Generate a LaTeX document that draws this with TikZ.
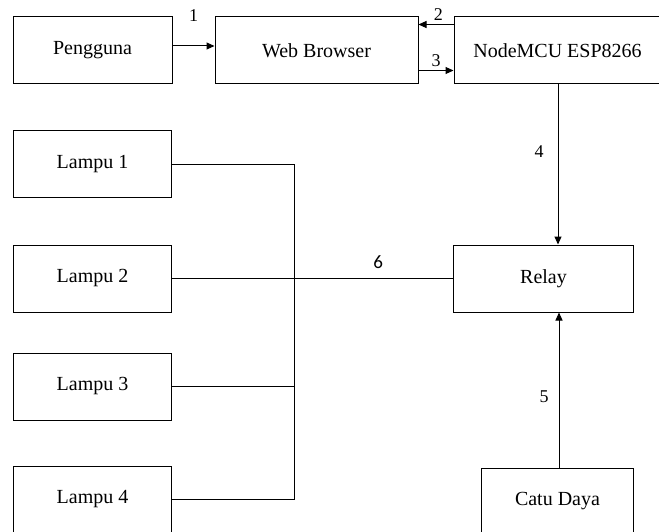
\documentclass[tikz,border=0pt]{standalone}
\usepackage{fontspec}
\setmainfont{Liberation Serif}
\newfontfamily\calibri{Carlito}
\usepackage{tikz}
\usetikzlibrary{positioning,arrows.meta,calc}
\tikzset{
  blok/.style={draw, line width=1pt, minimum height=67pt, inner sep=0pt,
    font=\fontsize{20}{24}\selectfont},
  >={Triangle[length=8pt,width=7pt]},
}

\begin{document}
\begin{tikzpicture}[
  line width=1pt,
  nomor/.style={inner sep=0pt, font=\fontsize{18}{21}\selectfont},
]
\useasboundingbox (0,0) rectangle (659pt,-532pt);
% baris atas
\node[blok, minimum width=159pt] (pengguna) at (92.5pt,-50.5pt) {Pengguna};
\node[blok, minimum width=203pt, right=42pt of pengguna] (browser) {Web Browser};
\node[blok, minimum width=207pt, right=35pt of browser] (nodemcu) {NodeMCU ESP8266};
% lampu
\node[blok, minimum width=158pt, below=46pt of pengguna] (lampu1) {Lampu 1};
\node[blok, minimum width=158pt, below=46pt of lampu1] (lampu2) {Lampu 2};
\node[blok, minimum width=158pt, below=40pt of lampu2] (lampu3) {Lampu 3};
\node[blok, minimum width=158pt, below=45pt of lampu3] (lampu4) {Lampu 4};
% relay dan catu daya
\node[blok, minimum width=180pt, right=281pt of lampu2] (relay) {Relay};
\node[blok, minimum width=152pt, below=155pt of relay.south east, anchor=north east] (catu) {Catu Daya};
\coordinate (bus) at ([xshift=122pt]lampu1.east);

\draw[->] ([yshift=4.5pt]pengguna.east) -- node[nomor, above=24pt]{1} ([yshift=4.5pt]pengguna.east -| browser.west);
\draw[->] ([yshift=26pt]nodemcu.west) -- node[nomor, above=3pt, pos=0.43]{2} ([yshift=26pt]nodemcu.west -| browser.east);
\draw[->] ([yshift=-20pt]browser.east) -- node[nomor, above=3pt]{3} ([yshift=-20pt]browser.east -| nodemcu.west);
\draw[->] ([xshift=0.5pt]nodemcu.south) -- node[nomor, left=14pt, pos=0.42]{4} ([xshift=0.5pt]nodemcu.south |- relay.north);
\draw[->] ([xshift=1.5pt]catu.north) -- node[nomor, left=10pt, pos=0.46]{5} ([xshift=1.5pt]catu.north |- relay.south);

\foreach \i in {1,...,4}
  \draw (lampu\i.east) -- (lampu\i.east -| bus);
\draw (lampu1.east -| bus) -- (lampu4.east -| bus);
\draw (lampu2.east -| bus) -- node[nomor, above=9pt, pos=0.53, font=\calibri\fontsize{19}{22}\selectfont]{6} (relay.west);
\end{tikzpicture}
\end{document}
